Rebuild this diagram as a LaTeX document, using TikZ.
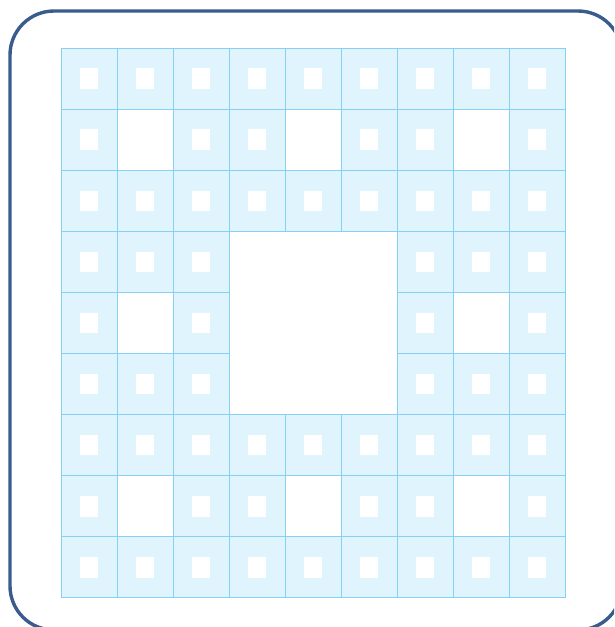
\documentclass[tikz,border=0pt]{standalone}
\usepackage{tikz}
\usetikzlibrary{positioning,calc}
\usepackage{xcolor}
\definecolor{cellfill}{RGB}{224,244,254}
\definecolor{cellline}{RGB}{135,208,245}
\definecolor{frameblue}{RGB}{58,92,140}
\tikzset{
  carpetcell/.style={fill=cellfill,draw=cellline,line width=1pt},
  carpethole/.style={fill=white,draw=none},
  outerframe/.style={draw=frameblue,line width=3.4pt,rounded corners=44pt}
}
\begin{document}
\begin{tikzpicture}[x=1pt,y=-1pt]
\useasboundingbox (0,0) rectangle (614,627);
\clip (0,0) rectangle (614,627);
\fill[white] (0,0) rectangle (614,627);
% outer frame, partly cut by the page edge
\draw[outerframe] (10,11) rectangle (622,630);
% carpet: 9x9 cells, each with a white middle third
\foreach \i in {0,...,8}{
  \foreach \j in {0,...,8}{
    \pgfmathtruncatemacro\hole{(mod(\i,3)==1 && mod(\j,3)==1) || (int(\i/3)==1 && int(\j/3)==1)}
    \ifnum\hole=0
      \coordinate (c\i\j) at ({61+56*\i},{48+61.11*\j});
      \draw[carpetcell] (c\i\j) rectangle ++(56,61.11);
      \fill[carpethole] ($(c\i\j)+(18.67,20.37)$) rectangle ++(18.67,20.37);
    \fi
  }
}
\end{tikzpicture}
\end{document}
